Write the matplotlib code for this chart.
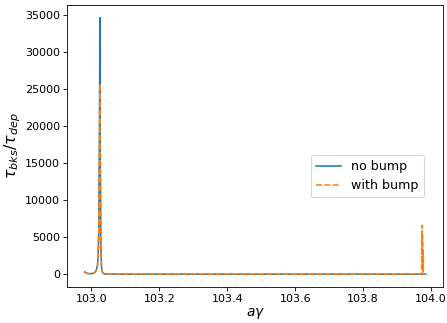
import numpy as np
import matplotlib.pyplot as plt

# -------------------
#    Data (read off)
# -------------------
a_gamma = [102.980, 102.985, 102.990, 102.995, 103.000, 103.005, 103.010,
           103.015, 103.018, 103.020, 103.022, 103.024, 103.025, 103.026,
           103.028, 103.030, 103.033, 103.036, 103.040, 103.100, 103.200,
           103.400, 103.600, 103.800, 103.900, 103.960, 103.970, 103.972,
           103.973, 103.974, 103.975, 103.976, 103.977, 103.978, 103.980,
           103.985]

ratio_no_bump = [300, 160, 90, 60, 70, 110, 220,
                 600, 1200, 2500, 6000, 20000, 34700, 18000,
                 3500, 900, 250, 90, 30, 5, 2,
                 1, 1, 1, 2, 3, 5, 10,
                 20, 30, 40, 30, 20, 10, 5,
                 2]

ratio_with_bump = [300, 160, 90, 60, 70, 110, 220,
                   600, 1200, 2500, 6000, 16000, 25800, 14000,
                   3000, 800, 220, 80, 30, 5, 2,
                   1, 1, 1, 2, 3, 5, 50,
                   6600, 800, 5200, 300, 3300, 100, 20,
                   2]

# -------------------
#   Plotting area
# -------------------
dpi = 76
fig, ax = plt.subplots(figsize=(447/dpi, 323/dpi), dpi=dpi)

ax.plot(a_gamma, ratio_no_bump, c='C0', lw=1.5, label='no bump')
ax.plot(a_gamma, ratio_with_bump, c='C1', lw=1.5, ls='--', label='with bump')

ax.tick_params(labelsize=10.5)
ax.set_xlabel(r'$a\gamma$', fontsize=13, labelpad=2)
ax.set_ylabel(r'$\tau_{bks}/\tau_{dep}$', fontsize=15, labelpad=2)
ax.legend(loc='upper left', bbox_to_anchor=(0.648, 0.468), borderaxespad=0,
          fontsize=12)

fig.subplots_adjust(left=0.151, right=0.991, top=0.985, bottom=0.1115)
plt.savefig('out.png', dpi=dpi)
plt.close()
